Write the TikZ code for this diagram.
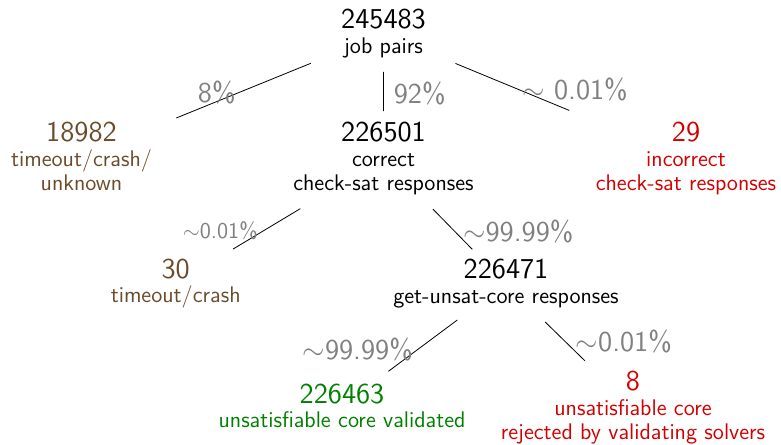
\documentclass[tikz,border=0pt]{standalone}
\usepackage{tikz}
\usetikzlibrary{calc}
\renewcommand{\familydefault}{\sfdefault}
\definecolor{failcolor}{RGB}{107, 76, 42}
\definecolor{badcolor}{RGB}{210, 0, 0}
\definecolor{okcolor}{RGB}{0, 128, 0}
\definecolor{pctcolor}{RGB}{128, 128, 128}
\newcommand{\numfont}{\fontsize{14.4}{17}\selectfont}
\newcommand{\descfont}{\fontsize{11.3}{12.3}\selectfont}

\begin{document}
\begin{tikzpicture}[
    x=0.5pt, y=-0.5pt,
    count/.style={align=center, inner sep=0pt, anchor=north, font=\descfont},
    pct/.style={text=pctcolor, inner sep=0pt, font=\numfont},
    smallpct/.style={pct, font=\descfont},
    edge/.style={line width=0.4pt}
]
\useasboundingbox (0,0) rectangle (781,444);
% Root
\node[count] (jobs) at (383.5,9) {{\numfont 245483}\\job pairs};
% First level
\node[count, text=failcolor] (fail) at (81.5,121.7) {{\numfont 18982}\\timeout/crash/\\unknown};
\node[count] (correct) at (383.5,121.7) {{\numfont 226501}\\correct\\check-sat responses};
\node[count, text=badcolor] (wrong) at (686,121.7) {{\numfont 29}\\incorrect\\check-sat responses};
% Second level
\node[count, text=failcolor] (crash) at (175.7,258.3) {{\numfont 30}\\timeout/crash};
\node[count] (cores) at (506,259) {{\numfont 226471}\\get-unsat-core responses};
% Third level
\node[count, text=okcolor] (valid) at (342,383.3) {{\numfont 226463}\\unsatisfiable core validated};
\node[count, text=badcolor] (rejected) at (633,370.7) {{\numfont 8}\\unsatisfiable core\\rejected by validating solvers};
% Edges
\foreach \a/\b/\s/\e in {jobs/fail/.241/.686, jobs/correct/.306/.62, jobs/wrong/.238/.614,
    correct/crash/.40/.724, correct/cores/.403/.725, cores/valid/.297/.717, cores/rejected/.308/.621}
    \draw[edge] ($(\a)!\s!(\b)$) -- ($(\a)!\e!(\b)$);
% Percentages
\node[pct] (p1) at (216.7,92.7) {8\%};
\node[pct] (p2) at (419.7,93.3) {92\%};
\node[pct] (p3) at (575,90) {$\sim$ 0.01\%};
\node[smallpct] (p4) at (220.3,230.7) {$\sim$0.01\%};
\node[pct] (p5) at (518.3,231.7) {$\sim$99.99\%};
\node[pct] (p6) at (357.7,350) {$\sim$99.99\%};
\node[pct] (p7) at (623.8,341.7) {$\sim$0.01\%};
\end{tikzpicture}
\end{document}
